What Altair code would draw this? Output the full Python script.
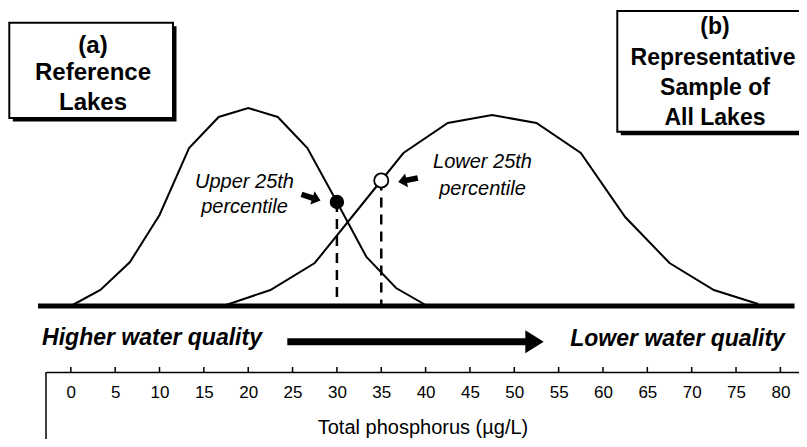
import altair as alt
import pandas as pd
import numpy as np

# ---- data ----
ref_x = [0, 3.33, 6.67, 10, 13.33, 16.67, 20, 23.33, 26.67, 30, 33.33, 36.67, 40]
ref_v = [0, 16, 44, 91, 158, 189, 198, 189, 158, 104, 49, 18, 1]
all_x = [17.5, 22.5, 27.5, 32.5, 37.5, 42.5, 47.5, 52.5, 57.5, 62.5, 67.5, 72.5, 77.5]
all_v = [1, 16, 43, 98, 153, 183, 191, 183, 153, 89, 43, 16, 2]
tick_values = list(range(0, 85, 5))
pct_x = [30, 35]          # upper 25th pct of reference lakes, lower 25th pct of all lakes
baseline_span = [-3.7, 81.6]

pct_v = [float(np.interp(pct_x[0], ref_x, ref_v)), float(np.interp(pct_x[1], all_x, all_v))]

FONT = "Liberation Sans"
W, H = 753, 364

xscale = alt.Scale(domain=[-2.8, 82.1], nice=False, zero=False)
yscale = alt.Scale(domain=[-66, 298], nice=False, zero=False)

ref_df = pd.DataFrame({"x": ref_x, "v": ref_v})
all_df = pd.DataFrame({"x": all_x, "v": all_v})
pct_df = pd.DataFrame({"x": pct_x, "v": pct_v, "base": [0, 0]})
tick_df = pd.DataFrame({"t": tick_values})
base_df = pd.DataFrame({"x": [baseline_span[0]], "x2": [baseline_span[1]], "v": [0]})
one = pd.DataFrame({"d": [0]})

X = alt.X("x:Q", scale=xscale,
          axis=alt.Axis(values=tick_values, title="Total phosphorus (µg/L)",
                        ticks=False, tickSize=0, grid=False, labelPadding=12,
                        labelFontSize=17, labelFont=FONT, labelColor="black",
                        labelFlush=False, labelOverlap=False,
                        domainColor="black", domainWidth=1.5,
                        titleFont=FONT, titleFontSize=20, titleFontWeight="normal",
                        titleColor="black", titleY=61, titleBaseline="alphabetic"))
Y = alt.Y("v:Q", scale=yscale, axis=None)

curve_ref = alt.Chart(ref_df).mark_line(color="black", strokeWidth=2).encode(x=X, y=Y)
curve_all = alt.Chart(all_df).mark_line(color="black", strokeWidth=2).encode(
    x=alt.X("x:Q", scale=xscale), y=alt.Y("v:Q", scale=yscale))

dashes = alt.Chart(pct_df).mark_rule(color="black", strokeWidth=2.5, strokeDash=[10, 7]).encode(
    x=alt.X("x:Q", scale=xscale), y=alt.Y("v:Q", scale=yscale), y2="base:Q")

baseline = alt.Chart(base_df).mark_rule(color="black", strokeWidth=5).encode(
    x=alt.X("x:Q", scale=xscale), x2="x2:Q", y=alt.Y("v:Q", scale=yscale))

ticks = alt.Chart(tick_df).mark_rule(color="black", strokeWidth=1.5).encode(
    x=alt.X("t:Q", scale=xscale), y=alt.value(H - 5), y2=alt.value(H))

frame_left = alt.Chart(one).mark_rule(color="black", strokeWidth=1.5).encode(
    x=alt.value(0), y=alt.value(H), y2=alt.value(H + 80))

dot_filled = alt.Chart(pct_df.iloc[[0]]).mark_point(
    shape="circle", filled=True, color="black", size=210, opacity=1).encode(
    x=alt.X("x:Q", scale=xscale), y=alt.Y("v:Q", scale=yscale))
dot_open = alt.Chart(pct_df.iloc[[1]]).mark_point(
    shape="circle", filled=True, fill="white", stroke="black", strokeWidth=1.8,
    size=200, opacity=1).encode(
    x=alt.X("x:Q", scale=xscale), y=alt.Y("v:Q", scale=yscale))


def box(x1, y1, x2, y2, off=3.5):
    shadow = alt.Chart(one).mark_rect(color="black").encode(
        x=alt.value(x1 + off), x2=alt.value(x2 + off), y=alt.value(y1 + off), y2=alt.value(y2 + off))
    face = alt.Chart(one).mark_rect(fill="white", stroke="black", strokeWidth=2).encode(
        x=alt.value(x1), x2=alt.value(x2), y=alt.value(y1), y2=alt.value(y2))
    return [shadow, face]


def label(txt, x, y, size, weight="normal", style="normal", align="center"):
    return alt.Chart(one).mark_text(
        text=txt, font=FONT, fontSize=size, fontWeight=weight, fontStyle=style,
        color="black", align=align, baseline="alphabetic").encode(
        x=alt.value(x), y=alt.value(y))


def arrow_shape(path, x, y, size, angle=0):
    return alt.Chart(one).mark_point(
        shape=path, filled=True, color="black", size=size, opacity=1, angle=angle).encode(
        x=alt.value(x), y=alt.value(y))


head_path = "M-0.8,-1L0.8,0L-0.8,1Z"
block_path = "M-1,-0.28L0.15,-0.28L0.15,-0.7L1,0L0.15,0.7L0.15,0.28L-1,0.28Z"

layers = []
layers += box(-36.7, 14.7, 127, 110)
layers += box(571.3, 3, 800, 123.7)
layers += [
    label("(a)", 47, 45, 24, "bold"),
    label("Reference", 47, 72, 24, "bold"),
    label("Lakes", 47, 102, 24, "bold"),
    label("(b)", 669, 26.3, 23, "bold"),
    label("Representative", 667, 57, 23, "bold"),
    label("Sample of", 669, 87, 23, "bold"),
    label("All Lakes", 669, 117, 23, "bold"),
    label("Upper 25th", 198.5, 180.3, 20, style="italic"),
    label("percentile", 198.5, 205.3, 20, style="italic"),
    label("Lower 25th", 436.5, 160.3, 20, style="italic"),
    label("percentile", 436.5, 187, 20, style="italic"),
    label("Higher water quality", 106, 337, 23, "bold", "italic"),
    label("Lower water quality", 631.5, 337.7, 23, "bold", "italic"),
    alt.Chart(one).mark_rule(color="black", strokeWidth=7).encode(
        x=alt.value(241.3), x2=alt.value(481), y=alt.value(333.7)),
    arrow_shape(head_path, 488.5, 333.7, 529),
    arrow_shape(block_path, 265, 189.5, 400, 18),
    arrow_shape(block_path, 362, 172, 400, 168),
]

chart = alt.layer(
    curve_ref, dashes, curve_all, baseline, ticks, frame_left, dot_filled, dot_open, *layers
).properties(
    width=W, height=H,
    padding={"left": 38, "top": 0, "right": 0, "bottom": 67},
    autosize=alt.AutoSizeParams(type="none"),
    background="white",
).configure_view(stroke=None)

chart.save("out.html", embed_options={"renderer": "svg", "actions": False})
